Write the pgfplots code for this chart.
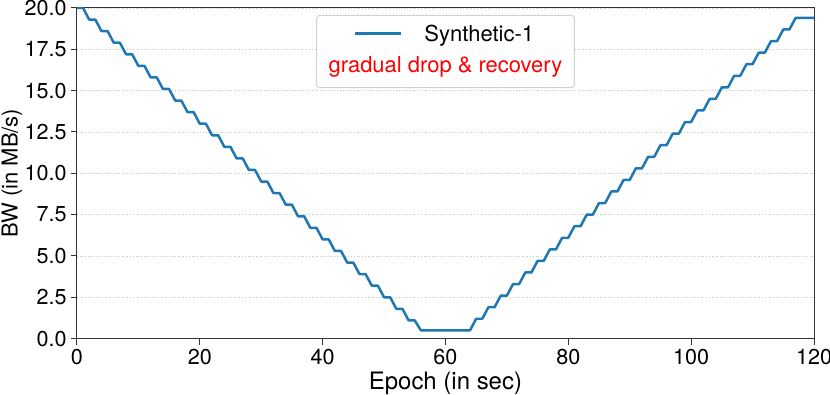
\documentclass[border=0pt]{standalone}
\usepackage{pgfplots}
\pgfplotsset{compat=1.18}
\usepackage{fontspec}
\setmainfont{TeX Gyre Heros}
\definecolor{tabblue}{HTML}{1F77B4}
\definecolor{spine}{HTML}{333333}

\begin{document}
\begin{tikzpicture}
\begin{axis}[
  name=ax,
  scale only axis,
  width=369pt, height=165.5pt,
  xmin=0, xmax=120, ymin=0, ymax=20,
  xtick={0,20,...,120},
  ytick={0,2.5,...,20},
  yticklabel style={/pgf/number format/.cd, fixed, fixed zerofill, precision=1},
  /pgf/number format/assume math mode=true,
  tick align=outside,
  tick pos=left,
  major tick length=3pt,
  tick style={spine, line width=0.5pt},
  axis line style={spine, line width=0.5pt},
  ymajorgrids,
  grid style={densely dotted, gray!45, line width=0.35pt},
  ticklabel style={font=\fontsize{10.8}{13}\selectfont, inner sep=2pt},
  xlabel={Epoch (in sec)},
  ylabel={BW (in MB/s)},
  xlabel style={font=\fontsize{12}{14}\selectfont, at={(axis description cs:0.5,-0.154)}, anchor=base},
  ylabel style={font=\fontsize{11}{13}\selectfont, at={(axis description cs:-0.0881,0.5)}, anchor=center},
]
\addplot[tabblue, line width=1.25pt, line join=round] coordinates {
(0,20.0)(1,20.0)(2,19.3)(3,19.3)(4,18.6)(5,18.6)(6,17.9)(7,17.9)(8,17.2)(9,17.2)
(10,16.5)(11,16.5)(12,15.8)(13,15.8)(14,15.1)(15,15.1)(16,14.4)(17,14.4)(18,13.7)(19,13.7)
(20,13.0)(21,13.0)(22,12.3)(23,12.3)(24,11.6)(25,11.6)(26,10.9)(27,10.9)(28,10.2)(29,10.2)
(30,9.5)(31,9.5)(32,8.8)(33,8.8)(34,8.1)(35,8.1)(36,7.4)(37,7.4)(38,6.7)(39,6.7)
(40,6.0)(41,6.0)(42,5.3)(43,5.3)(44,4.6)(45,4.6)(46,3.9)(47,3.9)(48,3.2)(49,3.2)
(50,2.5)(51,2.5)(52,1.8)(53,1.8)(54,1.1)(55,1.1)(56,0.5)(57,0.5)(58,0.5)(59,0.5)
(60,0.5)(61,0.5)(62,0.5)(63,0.5)(64,0.5)(65,1.2)(66,1.2)(67,1.9)(68,1.9)(69,2.6)
(70,2.6)(71,3.3)(72,3.3)(73,4.0)(74,4.0)(75,4.7)(76,4.7)(77,5.4)(78,5.4)(79,6.1)
(80,6.1)(81,6.8)(82,6.8)(83,7.5)(84,7.5)(85,8.2)(86,8.2)(87,8.9)(88,8.9)(89,9.6)
(90,9.6)(91,10.3)(92,10.3)(93,11.0)(94,11.0)(95,11.7)(96,11.7)(97,12.4)(98,12.4)(99,13.1)
(100,13.1)(101,13.8)(102,13.8)(103,14.5)(104,14.5)(105,15.2)(106,15.2)(107,15.9)(108,15.9)(109,16.6)
(110,16.6)(111,17.3)(112,17.3)(113,18.0)(114,18.0)(115,18.7)(116,18.7)(117,19.4)(118,19.4)(119,19.4)
(120,19.4)
};
% legend box
\node[anchor=north, draw=gray!35, fill=white, rounded corners=1.5pt, line width=0.5pt,
      align=left, inner xsep=6pt, inner ysep=5pt,
      font=\fontsize{11}{15.5}\selectfont]
  at ([yshift=-3.5pt]rel axis cs:0.5,1)
  {\hspace*{13pt}\textcolor{tabblue}{\rule[0.33em]{23pt}{1.25pt}}\hspace{12pt}Synthetic-1\\
   \textcolor{red}{gradual drop \& recovery}};
\end{axis}
\pgfresetboundingbox
\path ([xshift=-38.5pt,yshift=-28pt]ax.south west) rectangle ([xshift=8pt,yshift=4pt]ax.north east);
\end{tikzpicture}
\end{document}
